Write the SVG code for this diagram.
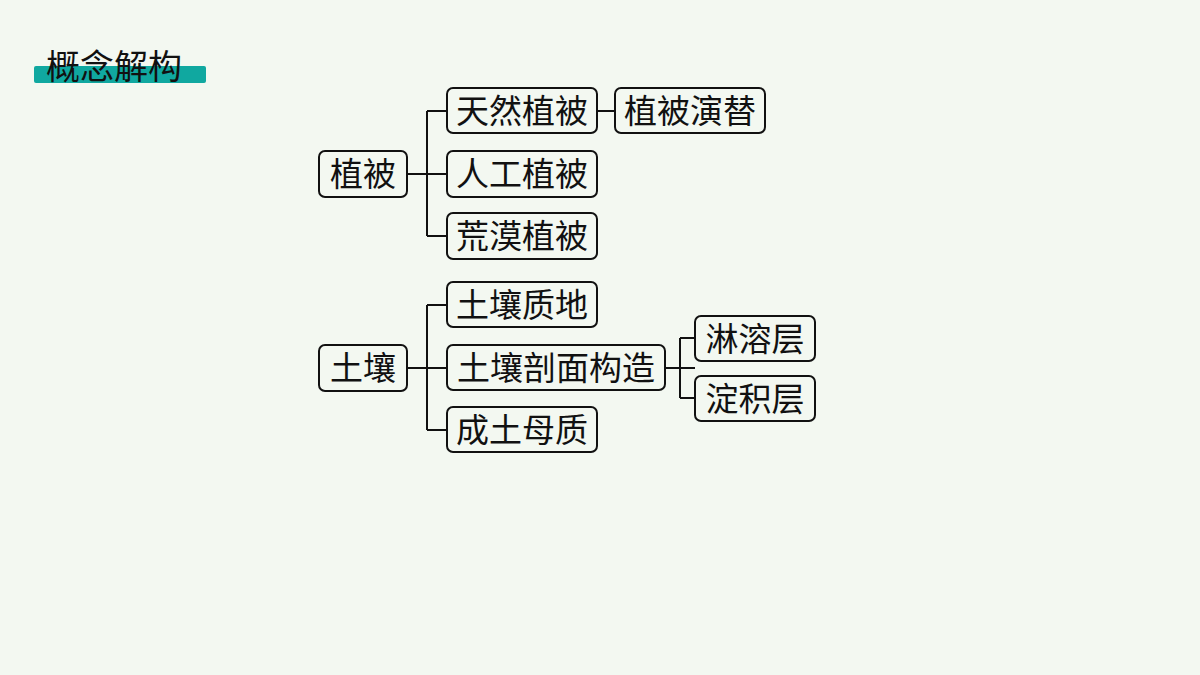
<svg xmlns="http://www.w3.org/2000/svg" width="1200" height="675" viewBox="0 0 1200 675">
<style>
.n rect{fill:none;stroke:#111;stroke-width:2}
.n text,.t{font-family:"Noto Sans CJK SC",sans-serif;font-size:33px;fill:#111;text-anchor:middle}
#c path{fill:none;stroke:#111;stroke-width:2}
</style>
<rect width="1200" height="675" fill="#f3f8f1"/>
<rect x="34" y="66" width="172" height="17" rx="2" fill="#10a8a0"/>
<text x="46" y="79" style="font-family:'Noto Sans CJK SC',sans-serif;font-size:34px;fill:#111">概念解构</text>
<g id="c">
<path d="M407 174H447M427 111V236M427 111H447M427 236H447M597 111H615"/>
<path d="M407 368H447M427 305V430M427 305H447M427 430H447M665 368H695M680 338V398M680 338H695M680 398H695"/>
</g>
<g id="n1" class="n"><rect x="319" y="151" width="88" height="46" rx="6"/><text x="363" y="186">植被</text></g>
<g id="n2" class="n"><rect x="447" y="88" width="150" height="45" rx="6"/><text x="522" y="123">天然植被</text></g>
<g id="n3" class="n"><rect x="447" y="151" width="150" height="46" rx="6"/><text x="522" y="186">人工植被</text></g>
<g id="n4" class="n"><rect x="447" y="213" width="150" height="46" rx="6"/><text x="522" y="248">荒漠植被</text></g>
<g id="n5" class="n"><rect x="615" y="88" width="150" height="45" rx="6"/><text x="690" y="123">植被演替</text></g>
<g id="n6" class="n"><rect x="319" y="345" width="88" height="46" rx="6"/><text x="363" y="380">土壤</text></g>
<g id="n7" class="n"><rect x="447" y="282" width="150" height="45" rx="6"/><text x="522" y="317">土壤质地</text></g>
<g id="n8" class="n"><rect x="447" y="345" width="218" height="45" rx="6"/><text x="556" y="380">土壤剖面构造</text></g>
<g id="n9" class="n"><rect x="447" y="407" width="150" height="45" rx="6"/><text x="522" y="442">成土母质</text></g>
<g id="n10" class="n"><rect x="695" y="316" width="120" height="45" rx="6"/><text x="755" y="351">淋溶层</text></g>
<g id="n11" class="n"><rect x="695" y="376" width="120" height="45" rx="6"/><text x="755" y="411">淀积层</text></g>
</svg>
